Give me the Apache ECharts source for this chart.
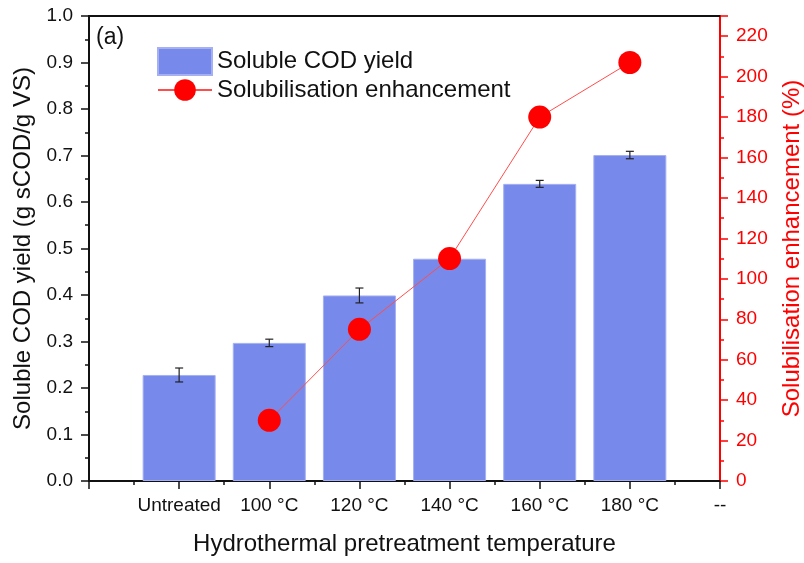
<!DOCTYPE html>
<html>
<head>
<meta charset="utf-8">
<script src="https://cdn.jsdelivr.net/npm/echarts@6/dist/echarts.min.js"></script>
<style>html,body{margin:0;padding:0;background:#fff}#c{width:804px;height:563px}</style>
</head>
<body>
<div id="c"></div>
<script>
// ---- data ----
var categories = ['Untreated', '100 °C', '120 °C', '140 °C', '160 °C', '180 °C', '--'];
var codYield = [0.228, 0.297, 0.399, 0.478, 0.639, 0.701];
var codYieldErr = [0.015, 0.008, 0.016, 0, 0.0075, 0.008];
var enhCategories = ['100 °C', '120 °C', '140 °C', '160 °C', '180 °C'];
var enhancement = [30, 75, 110, 180, 207];
var leftTicks = [0, 0.1, 0.2, 0.3, 0.4, 0.5, 0.6, 0.7, 0.8, 0.9, 1.0];
var rightTicks = [0, 20, 40, 60, 80, 100, 120, 140, 160, 180, 200, 220];

var FONT = 'Liberation Sans, Arial, sans-serif';
function pos(cat) { return categories.indexOf(cat) + 1; }

var barData = codYield.map(function (v, i) { return [pos(categories[i]), v]; });
var errData = codYield.map(function (v, i) { return [pos(categories[i]), v - codYieldErr[i], v + codYieldErr[i]]; });
var lineData = enhancement.map(function (v, i) { return [pos(enhCategories[i]), v]; });

var chart = echarts.init(document.getElementById('c'), null, { renderer: 'canvas' });
chart.setOption({
  animation: false,
  backgroundColor: '#fff',
  textStyle: { fontFamily: FONT },
  grid: { left: 89, right: 84, top: 16, bottom: 82, containLabel: false, outerBoundsMode: 'none' },
  legend: {
    orient: 'vertical', left: 157, top: 47, padding: 0,
    itemWidth: 54, itemHeight: 27, itemGap: 2,
    textStyle: { fontSize: 24, color: '#111', fontFamily: FONT },
    data: [{ name: 'Soluble COD yield', icon: 'rect' }, { name: 'Solubilisation enhancement' }]
  },
  graphic: [{
    type: 'text', left: 96, top: 26,
    style: { text: '(a)', font: '23px ' + FONT, fill: '#111' }
  }],
  xAxis: [{
    type: 'value', min: 0, max: 7, interval: 1,
    name: 'Hydrothermal pretreatment temperature', nameLocation: 'middle', nameGap: 51,
    nameTextStyle: { fontSize: 24, color: '#111', fontFamily: FONT },
    axisLine: { onZero: false, lineStyle: { color: '#111', width: 2 } },
    axisTick: { show: true, length: 8, inside: false, lineStyle: { color: '#111', width: 1.5 } },
    minorTick: { show: true, splitNumber: 2, length: 4, lineStyle: { color: '#111', width: 1.5 } },
    splitLine: { show: false },
    axisLabel: {
      margin: 15, fontSize: 19, color: '#111', fontFamily: FONT,
      formatter: function (v) { return v >= 1 ? categories[v - 1] : ''; }
    }
  }, {
    type: 'value', min: 0, max: 7, position: 'top',
    axisLine: { show: true, onZero: false, lineStyle: { color: '#111', width: 2 } },
    axisTick: { show: false }, axisLabel: { show: false }, splitLine: { show: false }
  }],
  yAxis: [{
    type: 'value', min: 0, max: 1.0, interval: 0.1, position: 'left',
    name: 'Soluble COD yield (g sCOD/g VS)', nameLocation: 'middle', nameGap: 54,
    nameTextStyle: { fontSize: 24, color: '#111', fontFamily: FONT },
    axisLine: { show: true, onZero: false, lineStyle: { color: '#111', width: 2 } },
    axisTick: { show: true, length: 8, lineStyle: { color: '#111', width: 1.5 } },
    minorTick: { show: true, splitNumber: 2, length: 4, lineStyle: { color: '#111', width: 1.5 } },
    splitLine: { show: false },
    axisLabel: {
      margin: 16, fontSize: 19, color: '#111', fontFamily: FONT,
      formatter: function (v) {
        var t = leftTicks.filter(function (x) { return Math.abs(x - v) < 1e-9; });
        return t.length ? t[0].toFixed(1) : '';
      }
    }
  }, {
    type: 'value', min: 0, max: 230, interval: 20, position: 'right',
    name: 'Solubilisation enhancement (%)', nameLocation: 'middle', nameGap: 60,
    nameRotate: 90,
    nameTextStyle: { fontSize: 24, color: '#ff0000', fontFamily: FONT },
    axisLine: { show: true, onZero: false, lineStyle: { color: '#ff0000', width: 2 } },
    axisTick: { show: true, length: 8, lineStyle: { color: '#ff0000', width: 1.5 } },
    minorTick: { show: true, splitNumber: 2, length: 4, lineStyle: { color: '#ff0000', width: 1.5 } },
    splitLine: { show: false },
    axisLabel: {
      margin: 16, fontSize: 19, color: '#ff0000', fontFamily: FONT,
      formatter: function (v) { return rightTicks.indexOf(v) >= 0 ? String(v) : ''; }
    }
  }],
  series: [{
    name: 'Soluble COD yield', type: 'bar', xAxisIndex: 0, yAxisIndex: 0,
    barWidth: 73, data: barData,
    itemStyle: { color: '#7789ea', borderColor: '#a4b0f2', borderWidth: 1 },
    z: 2
  }, {
    name: 'errors', type: 'custom', xAxisIndex: 0, yAxisIndex: 0, data: errData, z: 3,
    renderItem: function (params, api) {
      var x = api.value(0), lo = api.value(1), hi = api.value(2);
      if (hi - lo < 1e-9) return null;
      var p1 = api.coord([x, lo]), p2 = api.coord([x, hi]);
      var w = 4, st = { stroke: '#222', lineWidth: 1.2 };
      return {
        type: 'group', children: [
          { type: 'line', shape: { x1: p1[0], y1: p1[1], x2: p2[0], y2: p2[1] }, style: st },
          { type: 'line', shape: { x1: p1[0] - w, y1: p1[1], x2: p1[0] + w, y2: p1[1] }, style: st },
          { type: 'line', shape: { x1: p2[0] - w, y1: p2[1], x2: p2[0] + w, y2: p2[1] }, style: st }
        ]
      };
    }
  }, {
    name: 'Solubilisation enhancement', type: 'line', xAxisIndex: 0, yAxisIndex: 1,
    data: lineData, symbol: 'circle', symbolSize: 23,
    lineStyle: { color: '#ff4d4d', width: 1 },
    itemStyle: { color: '#ff0000' },
    z: 4
  }]
});
</script>
</body>
</html>
